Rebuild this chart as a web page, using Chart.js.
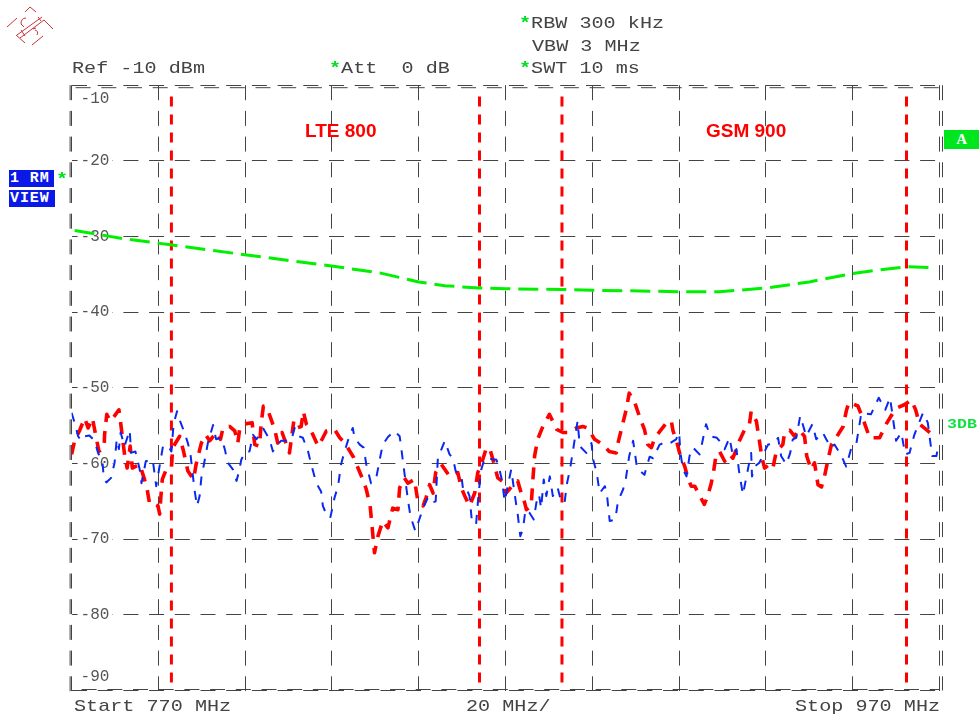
<!DOCTYPE html>
<html>
<head>
<meta charset="utf-8">
<title>Spectrum 770-970 MHz</title>
<script src="https://cdn.jsdelivr.net/npm/chart.js@4"></script>
<style>
  html, body { margin: 0; padding: 0; background: #fff; width: 979px; height: 717px; overflow: hidden; }
  #wrap { position: relative; width: 979px; height: 717px; }
  canvas { position: absolute; left: 0; top: 0; }
  .t { position: absolute; font: 17px/20px "Liberation Mono", monospace; color: #444; white-space: pre; transform: scaleX(1.185); transform-origin: left center; }
  .star { color: #00e020; font-weight: bold; }
  .band { position: absolute; font: bold 19px/22px "Liberation Sans", Arial, sans-serif; color: #f00; white-space: pre; }
  .tag { position: absolute; background: #0a18e8; color: #fff; font: bold 15px/17px "Liberation Mono", monospace; letter-spacing: 0.9px; padding-left: 1px; white-space: pre; }
  #logo { position: absolute; left: 0; top: 0; }
</style>
</head>
<body>
<div id="wrap">
  <canvas id="myChart" width="979" height="717"></canvas>
  <svg id="logo" width="60" height="50" fill="none" stroke="#c8323a" stroke-width="1">
    <path d="M7 27 L17 18 M25 12 L30 7 L36 12 M44 20 L53 29 M32 45 L43 36 M25 43 L16 35"/>
    <path d="M17 35 L42 17 M20 38 L44 20 M21 30 L25 36 M38 17 L41 21"/>
    <path d="M21 24 Q21 18 26 18 M21 24 L24 27 M35 30 Q39 31 37 35 M33 29 L36 28"/>
  </svg>
  <div class="t" style="left:519px;top:14px"><span class="star">*</span>RBW 300 kHz</div>
  <div class="t" style="left:532px;top:37px">VBW 3 MHz</div>
  <div class="t" style="left:519px;top:59px"><span class="star">*</span>SWT 10 ms</div>
  <div class="t" style="left:72px;top:59px">Ref -10 dBm</div>
  <div class="t" style="left:329px;top:59px"><span class="star">*</span>Att  0 dB</div>
  <div class="t" style="left:74px;top:697px">Start 770 MHz</div>
  <div class="t" style="left:466px;top:697px">20 MHz/</div>
  <div class="t" style="left:795px;top:697px">Stop 970 MHz</div>
  <div class="band" style="left:305px;top:120px">LTE 800</div>
  <div class="band" style="left:706px;top:120px">GSM 900</div>
  <div class="tag" style="left:9px;top:170px;width:44px">1 RM</div>
  <div class="tag" style="left:9px;top:190px;width:45px">VIEW</div>
  <div class="t" style="left:56px;top:170px"><span class="star">*</span></div>
  <div class="tag" style="left:944px;top:130px;width:34px;height:19px;background:#00e61e;text-align:center;line-height:19px;font-family:'Liberation Serif',serif">A</div>
  <div class="t" style="left:947px;top:415px;font:bold 13.5px/20px 'Liberation Mono',monospace;transform:scaleX(1.23);color:#10e040">3DB</div>
</div>

<script>
const yTickValues = [-11.8, -20, -30, -40, -50, -60, -70, -80, -88.2];
const yTickLabels = ['-10', '-20', '-30', '-40', '-50', '-60', '-70', '-80', '-90'];
const bandEdges = [793, 864, 883, 962.4];
const bandTop = -11.5;
const bandBottom = -89;

const limitFreq = [770.7, 781, 792.8, 809.9, 829.9, 841, 850, 856, 863.8, 870, 882.9, 890, 900.9, 910, 919.3, 930.1, 940, 950, 956.2, 962.4, 967.7];
const limitLevel = [-29.2, -30.2, -31.1, -32.4, -33.9, -34.8, -36, -36.5, -36.8, -36.9, -37, -37.1, -37.2, -37.3, -37.3, -36.8, -36, -34.9, -34.4, -34, -34.1];

const redFreq = [
  770, 770.7, 771.8, 773, 773.8, 774.8, 775.3, 776.3, 777.5, 777.6, 778.1, 778.9, 779.9, 780.9, 781.3, 782.2, 782.8, 783.5, 784, 785.7,
  786.8, 787.4, 788, 789.1, 789.9, 790.3, 790.7, 790.9, 791.8, 793, 793.3, 794.9, 795.8, 796.8, 798.1, 798.7, 799.9, 800.9, 801.8, 803.4,
  804.3, 804.9, 806.4, 807.6, 808.3, 808.7, 809.6, 811.6, 812.2, 813.3, 813.7, 814.2, 815.2, 816, 816.8, 817.5, 818.5, 820.2, 821.2, 821.9,
  822.9, 823.4, 824.1, 825.2, 826.8, 827.9, 828.7, 830.6, 831.8, 833, 835, 836, 837.1, 837.9, 838.8, 839.3, 839.8, 840.6, 841.7, 842.9,
  844, 845.2, 845.6, 846.7, 847.5, 849, 849.8, 851, 851.7, 852.5, 853.3, 853.9, 855.2, 857.1, 859, 859.8, 860.6, 861.7, 862.9, 863.6,
  864.4, 865.5, 866.3, 867.4, 868.2, 869.8, 870.1, 870.9, 871.7, 872.8, 873.6, 874.1, 874.8, 875.9, 876.3, 876.7, 877.4, 878.6, 880.1, 881.8,
  883.2, 884.7, 886.3, 887.8, 888.9, 890.5, 892.4, 893.9, 895.5, 895.9, 896.6, 897.8, 898.5, 899.7, 900.8, 902, 902.8, 903.6, 904.4, 905.5,
  907.4, 908.2, 908.6, 909.4, 910.1, 911.3, 912.1, 912.8, 913.6, 914.8, 915.8, 916.6, 917.4, 917.9, 918.4, 919.3, 920.5, 921.6, 922.4, 923.9,
  925.1, 926.2, 926.6, 927.8, 928.5, 929.1, 929.7, 930.8, 931.6, 932.4, 933.9, 934.3, 935.5, 936.6, 937.6, 938.9, 939.4, 940.4, 941.2, 942,
  942.8, 943.5, 944.5, 945.1, 946.6, 947.8, 948.5, 949.1, 951.2, 952.3, 953.1, 953.9, 956.2, 957.7, 959.3, 960.4, 962, 963.5, 964.5, 965.4,
  966.9, 968.4, 969.6
];
const redLevel = [
  -58.8, -57, -55.7, -54, -55.3, -54, -55.5, -58.4, -57.9, -56.2, -53.5, -54.4, -53.7, -52.9, -54.6, -58.8, -60.6, -57.7, -60.6, -60.1,
  -62.1, -63.4, -65.4, -65.4, -65.6, -66.7, -63.4, -62.1, -60.8, -60.6, -57.9, -56.4, -58.4, -61, -62.1, -60.1, -57.3, -56.2, -57, -55.9,
  -56.8, -55.3, -55.1, -55.7, -57.3, -55.6, -54.8, -54.6, -57.5, -57.7, -54.6, -52.4, -52.9, -54.2, -55.5, -57.3, -55.9, -58.6, -54.4, -55.3,
  -55.1, -53.1, -54.8, -55.7, -57.7, -56.6, -55.7, -55.5, -56.6, -57.3, -59.2, -60.6, -62.1, -63.4, -65.6, -68.7, -71.8, -69.6, -67.6, -68.5,
  -65.9, -66.1, -63.2, -61.9, -62.6, -62.1, -65, -65.6, -64.5, -62.8, -63.9, -61.2, -60.1, -61.7, -61.2, -63.2, -64.3, -65.6, -63.9, -61.2,
  -60.1, -58.1, -57.9, -60.1, -61.9, -62.6, -63.9, -63.4, -62.8, -62.3, -63.9, -64.5, -66.1, -65.6, -62.1, -59, -56.8, -55.1, -53.5, -55.5,
  -55.9, -55.9, -55.3, -55.1, -55.3, -56.8, -57.5, -58.4, -58.6, -57.3, -55.7, -52.9, -50.7, -51.8, -53.7, -55.5, -57.5, -57.9, -56.6, -55.8,
  -54.4, -54.4, -55.7, -57, -58.6, -60.4, -62.1, -63, -63, -64.3, -65.4, -64.3, -62.6, -61.2, -59.3, -58.4, -59.7, -58.8, -59.3, -57,
  -55.5, -54.8, -53.1, -54.4, -57, -59.3, -60.6, -60.1, -60.6, -58.4, -57.5, -55.9, -55.6, -56.4, -55.5, -56.4, -59, -60.8, -59.9, -62.8,
  -63.1, -61.7, -59, -57.5, -56.2, -55.1, -53.1, -51.9, -52.4, -54, -55.3, -56.6, -56.6, -54.8, -53.3, -52.6, -52.2, -51.6, -52.9, -54.8,
  -55.5, -56.2, -56.2
];

const blueFreq = [
  770, 770.8, 771.5, 772.2, 773, 774.1, 775.3, 776.1, 777.1, 777.4, 778, 779.1, 779.9, 780.4, 780.9, 781.3, 782.2, 783.4, 783.7, 784.7,
  785.7, 786.1, 787.1, 788.7, 789.5, 791, 792, 793, 793.5, 794.3, 795, 796, 796.8, 797.4, 798.3, 798.9, 799.5, 799.9, 800.5, 801.4,
  802.6, 803.3, 804.5, 805.3, 806, 807.2, 808, 808.6, 809.1, 810.1, 811, 811.8, 812.6, 814.2, 815.6, 816.4, 817, 818.3, 819.5, 820.6,
  821.4, 822.4, 823.3, 824.5, 825.2, 826.4, 827.5, 827.9, 828.7, 829.6, 830.6, 831.4, 832.1, 832.9, 834, 834.8, 835.2, 836.4, 837.3, 837.9,
  839, 840.2, 841, 841.7, 842.9, 844.4, 845.6, 846.2, 846.8, 847.5, 848.1, 849.2, 850, 851, 852.1, 852.9, 853.9, 854.4, 856, 857.1,
  857.9, 858.5, 859.8, 860.2, 860.9, 861.7, 862.2, 863.2, 863.8, 864.4, 865.2, 867.9, 868.6, 869.2, 869.8, 870.5, 871.3, 872.4, 872.8, 873.4,
  874, 874.6, 875.5, 876.5, 877.1, 877.7, 878.2, 878.8, 879.4, 880.2, 880.9, 882, 882.8, 883.6, 884.1, 884.9, 885.7, 886.6, 887.1, 888.6,
  889.8, 890.2, 891, 891.7, 892.9, 893.4, 894, 895.3, 895.9, 897.1, 897.7, 898.5, 899.4, 900.3, 902, 903.2, 904, 905.5, 906.4, 907.4,
  909.3, 910, 910.3, 910.9, 911.7, 912.4, 913.2, 914.7, 915.3, 916.2, 917.2, 918.7, 919.7, 920.5, 921.6, 922.4, 923.2, 923.8, 924.7, 926.6,
  926.8, 927.4, 928.5, 929.7, 930.5, 932, 932.8, 933.5, 934.7, 935.6, 936.2, 937, 937.9, 939.3, 940.7, 941.6, 943.1, 943.9, 945, 945.8,
  947.4, 948.5, 949.7, 950.8, 952, 954.2, 956, 957.5, 958.6, 959.1, 960, 961.2, 962.1, 963.1, 964.2, 966.2, 967.3, 968.3, 969.3, 969.8
];
const blueLevel = [
  -53.3, -54.8, -56.4, -57, -56.4, -56.3, -57, -58.6, -59.7, -61.8, -62.5, -61.9, -59.9, -56.8, -58.1, -55.9, -57.7, -55.6, -58.6, -58.4,
  -60.8, -62.6, -59.7, -59.5, -63, -57.9, -57.5, -58.4, -54.8, -53.1, -54.4, -55.9, -57.3, -58.8, -63.4, -65.6, -64.3, -61.9, -60.1, -57.3,
  -54.9, -56.8, -56.6, -58.1, -59.9, -60.8, -62.3, -61, -59.5, -58.4, -58.4, -56.2, -56.8, -55.4, -56.8, -58.4, -57.7, -57, -57, -57,
  -55.3, -56.4, -56.6, -58.4, -60.1, -62.6, -63.7, -65.6, -66.7, -67.2, -64.5, -63, -60.1, -58.4, -56.4, -55.3, -56.6, -57.5, -57.9, -60.1,
  -62.6, -61.9, -59.5, -57.5, -56.5, -55.7, -56.4, -59, -61.7, -64.8, -67, -68.9, -67.6, -65.9, -64.5, -65.2, -65, -59.3, -57, -58.8,
  -59.3, -61, -61.5, -63.4, -63.2, -64.3, -67.4, -68.1, -63.9, -60.8, -59.3, -59.5, -60.8, -62.3, -65, -63, -60.8, -65.2, -66.7, -69.6,
  -68.7, -66.1, -66.5, -67.4, -65.2, -64.1, -65.9, -62.1, -64.3, -61.7, -64.3, -63.2, -65, -65.2, -62.8, -60.6, -57.7, -54.4, -57.7, -58.6,
  -57.3, -59.5, -61.2, -63.9, -63, -64.3, -67.6, -67.4, -65, -63.4, -62.1, -59, -57, -60.6, -61.5, -59.1, -59.3, -57.5, -57.3, -57.5,
  -56.8, -55.9, -58.6, -60.8, -61.7, -59, -57.9, -58.8, -57.3, -54.8, -56.4, -56.6, -57.3, -58.1, -56.6, -59, -58.1, -61, -64.1, -58.6,
  -61.7, -60.4, -59.9, -58.4, -57.5, -57.3, -56.6, -59, -60.1, -58.6, -56.8, -56.6, -53.7, -56.4, -54.8, -56.8, -55.9, -56.8, -57.9, -57.5,
  -59, -60.4, -57.9, -57.5, -53.3, -53.5, -51.3, -52.9, -51.3, -53.3, -57, -55.9, -58.8, -58.6, -56.2, -53.3, -54.6, -59, -59, -57.3
];

function puntos(xs, ys) {
  return xs.map((x, i) => ({ x: x, y: ys[i] }));
}

// the analyzer draws every frame edge twice, slightly offset
const dobleMarco = {
  id: 'dobleMarco',
  beforeDatasetsDraw(chart) {
    const { ctx, chartArea: a } = chart;
    ctx.save();
    ctx.strokeStyle = '#444';
    ctx.lineWidth = 1;
    ctx.setLineDash([15, 10.7]);
    ctx.beginPath();
    ctx.moveTo(a.left - 1.5, a.top);
    ctx.lineTo(a.left - 1.5, a.bottom + 1);
    ctx.moveTo(a.right + 3, a.top);
    ctx.lineTo(a.right + 3, a.bottom);
    ctx.moveTo(a.left + 4, a.top + 2.5);
    ctx.lineTo(a.right, a.top + 2.5);
    ctx.moveTo(a.left + 10, a.bottom - 1);
    ctx.lineTo(a.right, a.bottom - 1);
    ctx.stroke();
    ctx.restore();
  }
};

const datasets = [
  { data: puntos(blueFreq, blueLevel), borderColor: '#0a28f0', borderWidth: 2, borderDash: [9, 9] },
  { data: puntos(redFreq, redLevel), borderColor: '#ff0000', borderWidth: 3.6, borderDash: [12, 9] },
  { data: puntos(limitFreq, limitLevel), borderColor: '#00f000', borderWidth: 3, borderDash: [20, 8] }
];
bandEdges.forEach((f) => {
  datasets.push({
    data: puntos([f, f], [bandTop, bandBottom]),
    borderColor: '#ff0000',
    borderWidth: 3,
    borderDash: [10, 8]
  });
});

const gridBase = { color: '#444', lineWidth: 1, drawTicks: false };
const gridBorder = { display: false, dash: [15, 10.7] };

new Chart(document.getElementById('myChart'), {
  type: 'line',
  data: { datasets },
  plugins: [dobleMarco],
  options: {
    responsive: false,
    animation: false,
    layout: { padding: { left: 71.6, right: 39.5, top: 85.2, bottom: 26.5 } },
    elements: { point: { radius: 0 }, line: { tension: 0, borderCapStyle: 'butt', borderJoinStyle: 'round' } },
    plugins: { legend: { display: false }, tooltip: { enabled: false } },
    scales: {
      x: {
        type: 'linear',
        min: 770,
        max: 970,
        border: gridBorder,
        grid: gridBase,
        ticks: { display: false, stepSize: 20 }
      },
      y: {
        type: 'linear',
        min: -90,
        max: -10,
        border: gridBorder,
        grid: gridBase,
        ticks: { display: false, stepSize: 10 }
      },
      yLabels: {
        type: 'linear',
        position: 'left',
        min: -90,
        max: -10,
        border: { display: false },
        grid: { display: false, drawTicks: false },
        afterBuildTicks(scale) {
          scale.ticks = yTickValues.map((v) => ({ value: v }));
        },
        afterFit(scale) {
          scale.width = 0;
        },
        ticks: {
          mirror: true,
          padding: 9,
          autoSkip: false,
          color: '#555',
          font: { family: '"Liberation Mono", monospace', size: 16 },
          showLabelBackdrop: true,
          backdropColor: '#fff',
          backdropPadding: 3,
          callback: (v, i) => yTickLabels[i]
        }
      }
    }
  }
});
</script>
</body>
</html>
